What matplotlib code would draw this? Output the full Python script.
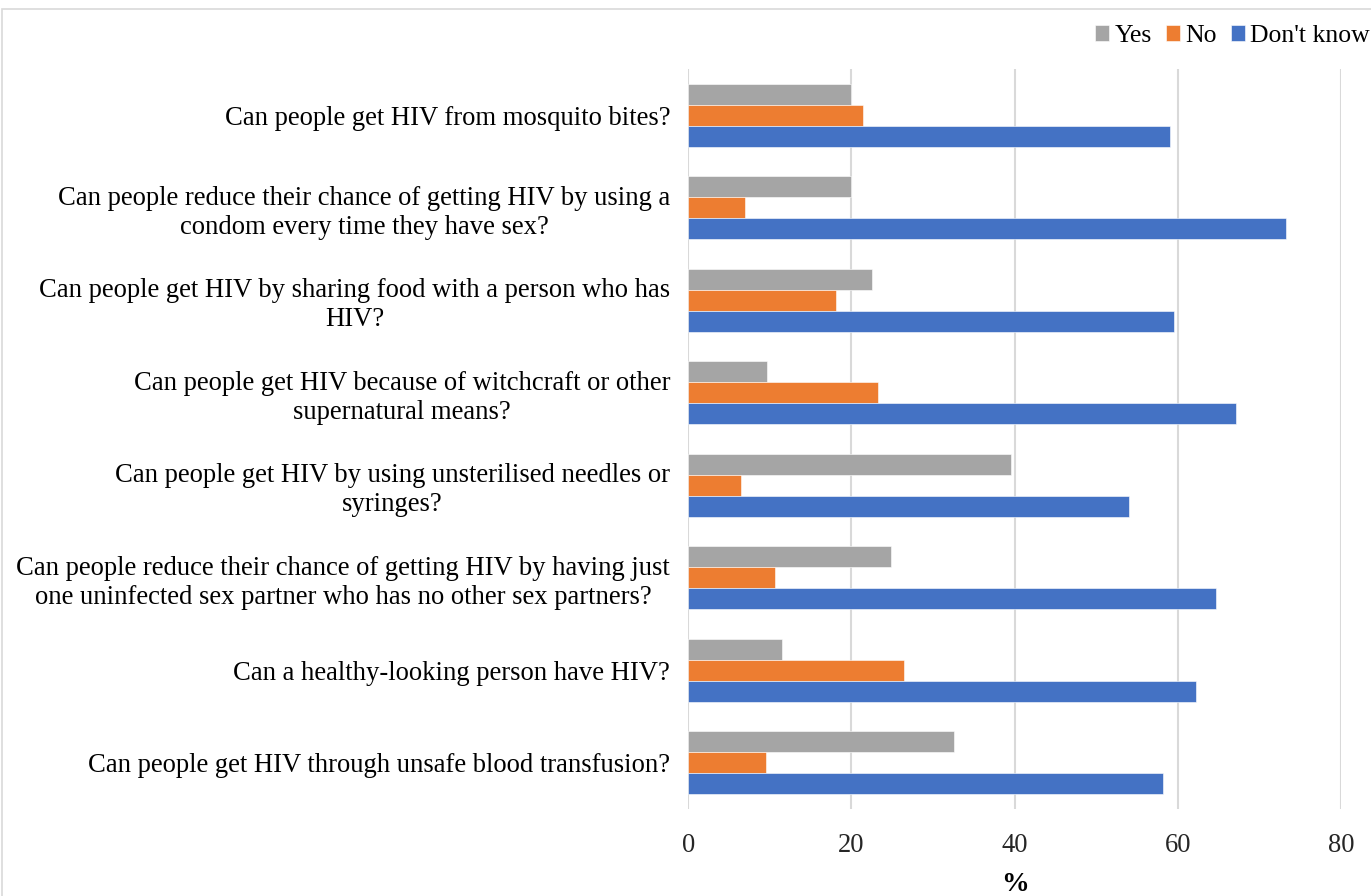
import matplotlib.pyplot as plt
import numpy as np
from matplotlib.patches import Rectangle

plt.rcParams['font.family'] = ['Liberation Serif', 'DejaVu Serif']

questions = [
    "Can people get HIV from mosquito bites?",
    "Can people reduce their chance of getting HIV by using a\ncondom every time they have sex?",
    "Can people get HIV by sharing food with a person who has\nHIV?",
    "Can people get HIV because of witchcraft or other\nsupernatural means?",
    "Can people get HIV by using unsterilised needles or\nsyringes?",
    "Can people reduce their chance of getting HIV by having just\none uninfected sex partner who has no other sex partners?",
    "Can a healthy-looking person have HIV?",
    "Can people get HIV through unsafe blood transfusion?",
]
yes = [19.9, 19.9, 22.5, 9.7, 39.6, 24.9, 11.5, 32.6]
no = [21.4, 6.9, 18.1, 23.3, 6.5, 10.6, 26.4, 9.5]
dont_know = [59.0, 73.3, 59.6, 67.2, 54.0, 64.7, 62.3, 58.2]

series = [("Yes", yes, "#A5A5A5"), ("No", no, "#ED7D31"), ("Don't know", dont_know, "#4472C4")]

fig = plt.figure(figsize=(13.71, 8.96), dpi=100)
ax = fig.add_axes([0.502, 0.097, 0.476, 0.826])

y = np.arange(len(questions))
h = 0.227
for k, (name, vals, col) in enumerate(series):
    ax.barh(y + (k - 1) * h, vals, height=h, color=col, label=name,
            edgecolor='white', linewidth=0.4, zorder=3)

ax.set_ylim(len(questions) - 0.5, -0.5)
ax.set_xlim(0, 80)
ax.set_xticks([0, 20, 40, 60, 80])
ax.set_yticks(y)
ax.set_yticklabels(questions, fontsize=19.2, multialignment='center',
                   linespacing=1.2)
ax.tick_params(axis='both', length=0, labelsize=19.2, colors='#000000')
ax.tick_params(axis='y', pad=13)
ax.tick_params(axis='x', pad=17)
for lab in ax.get_xticklabels():
    lab.set_color('#262626')
ax.grid(axis='x', color='#d9d9d9', linewidth=1.5, zorder=0)
for s in ax.spines.values():
    s.set_visible(False)
ax.set_xlabel('%', fontsize=20, fontweight='bold', labelpad=10)

ax.legend(loc='upper right', bbox_to_anchor=(1.0 / 0.476 * (1 - 0.502) + 0.0138, 1.073),
          ncol=3, frameon=False, fontsize=18.5, handlelength=0.55, handleheight=0.55,
          handletextpad=0.2, columnspacing=0.55, borderaxespad=0)

fig.patches.append(Rectangle((2 / 1371, -0.01), 1.02, 1 - 9 / 896 + 0.01, transform=fig.transFigure,
                             fill=False, edgecolor='#d9d9d9', linewidth=1.2))

fig.savefig('out.png', dpi=100)
